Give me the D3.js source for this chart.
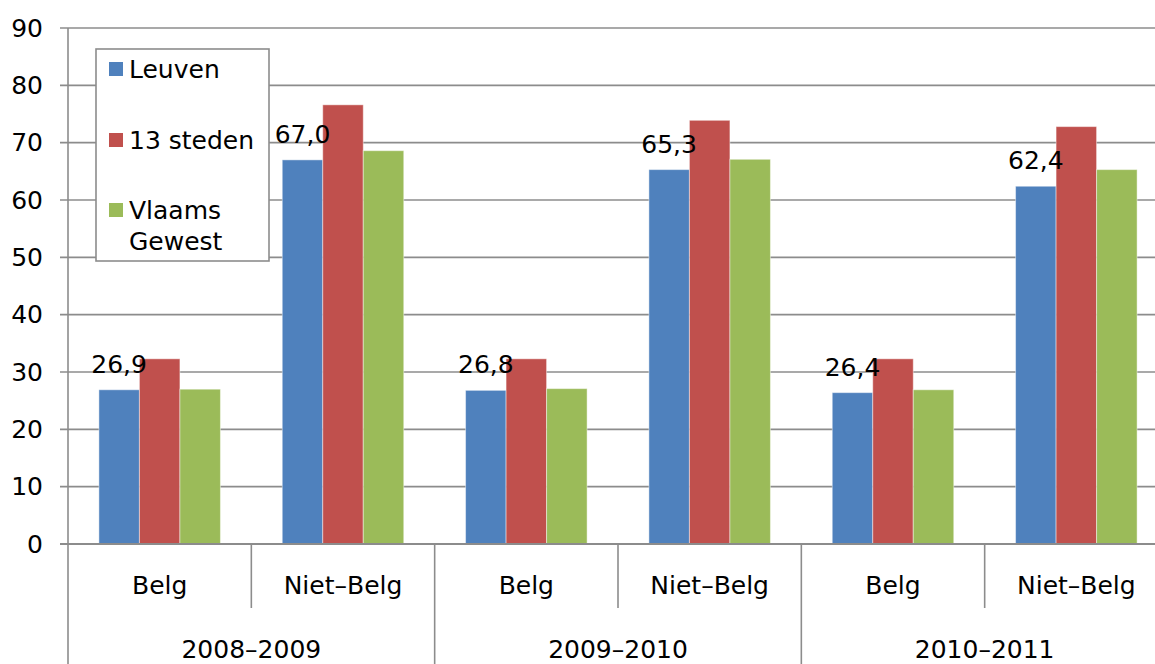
<!DOCTYPE html>
<html>
<head>
<meta charset="utf-8">
<script src="https://cdn.jsdelivr.net/npm/d3@7"></script>
<style>
  body { margin: 0; background: #fff; }
  text { font-family: "DejaVu Sans", sans-serif; fill: #000; }
</style>
</head>
<body>
<script>
// Chart data
var years = ["2008–2009", "2009–2010", "2010–2011"];
var groups = ["Belg", "Niet–Belg"];
var series = ["Leuven", "13 steden", "Vlaams Gewest"];
var leuven = [26.9, 67.0, 26.8, 65.3, 26.4, 62.4];
var steden = [32.3, 76.6, 32.3, 73.9, 32.3, 72.8];
var vlaams = [27.0, 68.6, 27.1, 67.1, 26.9, 65.3];
var yTicks = [0, 10, 20, 30, 40, 50, 60, 70, 80, 90];

var colors = ["#4f81bd", "#c0504d", "#9bbb59"];
var values = [leuven, steden, vlaams];

var svgWidth = 1155;
var svgHeight = 664;
var fontSize = "25px";

var svg = d3.select("body")
  .append("svg")
  .attr("width", svgWidth)
  .attr("height", svgHeight);

// category keys: one per year/group pair
var cats = [];
years.forEach(function(y) {
  groups.forEach(function(g) { cats.push(y + "|" + g); });
});

var plotLeft = 68, plotRight = 1168, plotTop = 28, plotBottom = 544;

var xScale = d3.scaleBand()
  .domain(cats)
  .range([plotLeft, plotRight])
  .padding(0);

var xSeries = d3.scaleBand()
  .domain(series)
  .range([0, xScale.bandwidth()])
  .paddingInner(0)
  .paddingOuter(0.763);

var yScale = d3.scaleLinear()
  .domain([0, 90])
  .range([plotBottom, plotTop]);

// gridlines
svg.append("g")
  .selectAll("line")
  .data(yTicks)
  .enter()
  .append("line")
  .attr("x1", plotLeft - 8)
  .attr("x2", svgWidth)
  .attr("y1", d => yScale(d))
  .attr("y2", d => yScale(d))
  .attr("stroke", "#8c8c8c")
  .attr("stroke-width", 1.6);

// y axis labels
var yAxis = d3.axisLeft(yScale)
  .tickValues(yTicks)
  .tickSize(0)
  .tickPadding(25);
var yG = svg.append("g")
  .attr("transform", "translate(" + plotLeft + ",0)")
  .call(yAxis);
yG.select(".domain").remove();
yG.selectAll("text")
  .style("font-family", "'DejaVu Sans', sans-serif")
  .style("font-size", fontSize)
  .attr("fill", "#000");

// bars
var barData = [];
cats.forEach(function(c, i) {
  series.forEach(function(s, j) {
    barData.push({cat: c, series: s, value: values[j][i], color: colors[j]});
  });
});

svg.append("g")
  .selectAll("rect")
  .data(barData)
  .enter()
  .append("rect")
  .attr("x", d => xScale(d.cat) + xSeries(d.series))
  .attr("y", d => yScale(d.value))
  .attr("width", xSeries.bandwidth())
  .attr("height", d => yScale(0) - yScale(d.value))
  .attr("fill", d => d.color)
  .attr("stroke", "rgba(255,255,255,0.45)")
  .attr("stroke-width", 1);

// data labels for Leuven
svg.append("g")
  .selectAll("text")
  .data(barData.filter(d => d.series === "Leuven"))
  .enter()
  .append("text")
  .attr("x", d => xScale(d.cat) + xSeries(d.series) + xSeries.bandwidth() / 2)
  .attr("y", d => yScale(d.value) - 17)
  .attr("text-anchor", "middle")
  .style("font-size", fontSize)
  .text(d => d3.format(".1f")(d.value).replace(".", ","));

// axis lines
var axisColor = "#8c8c8c";
svg.append("line")
  .attr("x1", plotLeft).attr("x2", plotLeft)
  .attr("y1", plotTop).attr("y2", svgHeight)
  .attr("stroke", axisColor).attr("stroke-width", 1.6);
svg.append("line")
  .attr("x1", plotLeft - 8).attr("x2", svgWidth)
  .attr("y1", plotBottom).attr("y2", plotBottom)
  .attr("stroke", axisColor).attr("stroke-width", 2);

// separators under axis
cats.forEach(function(c, i) {
  if (i === 0) return;
  var x = xScale(c);
  var full = i % groups.length === 0;
  svg.append("line")
    .attr("x1", x).attr("x2", x)
    .attr("y1", plotBottom)
    .attr("y2", full ? svgHeight : 608)
    .attr("stroke", axisColor)
    .attr("stroke-width", 1.6);
});

// category labels
svg.append("g")
  .selectAll("text")
  .data(cats)
  .enter()
  .append("text")
  .attr("x", d => xScale(d) + xScale.bandwidth() / 2)
  .attr("y", 594)
  .attr("text-anchor", "middle")
  .style("font-size", fontSize)
  .text(d => d.split("|")[1]);

// year labels
svg.append("g")
  .selectAll("text")
  .data(years)
  .enter()
  .append("text")
  .attr("x", (d, i) => xScale(cats[i * 2]) + xScale.bandwidth())
  .attr("y", 658)
  .attr("text-anchor", "middle")
  .style("font-size", fontSize)
  .text(d => d);

// legend
var legend = svg.append("g");
legend.append("rect")
  .attr("x", 96).attr("y", 49)
  .attr("width", 173).attr("height", 212)
  .attr("fill", "#fff")
  .attr("stroke", "#8c8c8c")
  .attr("stroke-width", 1.6);

var legendY = [69, 140, 210];
series.forEach(function(s, i) {
  legend.append("rect")
    .attr("x", 109).attr("y", legendY[i] - 7)
    .attr("width", 14).attr("height", 14)
    .attr("fill", colors[i]);
  var words = s === "Vlaams Gewest" ? ["Vlaams", "Gewest"] : [s];
  words.forEach(function(w, k) {
    legend.append("text")
      .attr("x", 129)
      .attr("y", legendY[i] + 9 + k * 31)
      .style("font-size", fontSize)
      .text(w);
  });
});
</script>
</body>
</html>
